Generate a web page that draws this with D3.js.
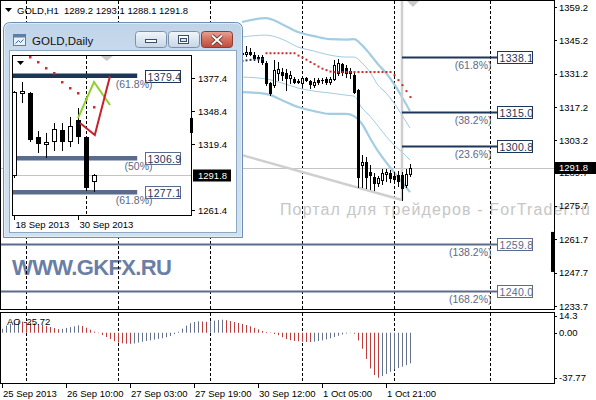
<!DOCTYPE html>
<html><head><meta charset="utf-8">
<script src="https://cdn.jsdelivr.net/npm/d3@7/dist/d3.min.js"></script>
<style>
html,body{margin:0;padding:0;background:#fff;overflow:hidden}
svg{display:block}
text{font-family:"Liberation Sans",Arial,sans-serif}
</style></head><body>
<svg id="chart" width="596" height="400"></svg>
<script>
// ================= DATA =================
const headerSymbol = "GOLD,H1";
const headerValues = ["1289.2", "1293.1", "1288.1", "1291.8"];
const lastPrice = 1291.8;

const priceTicks = [1359.2, 1345.2, 1331.2, 1317.2, 1303.2, 1289.7, 1275.7, 1261.7, 1247.7, 1233.7];
const timeTickIndex = [-6, 10, 26, 42, 58, 74, 90];
const timeTickLabels = ["25 Sep 2013", "26 Sep 10:00", "27 Sep 03:00", "27 Sep 19:00", "30 Sep 12:00", "1 Oct 05:00", "1 Oct 21:00"];
const daySeparators = [0, 23, 46, 69, 92, 116];

// H1 candles, bar index 54 .. 96
const candleFirst = 54;
const candleOpen  = [1340.0,1339.6,1340.2,1339.2,1337.8,1338.4,1335.7,1327.2,1326.4,1331.5,1331.9,1331.5,1329.4,1328.9,1328.1,1327.3,1329.4,1328.1,1326.4,1328.5,1328.5,1328.9,1327.7,1328.9,1331.5,1335.2,1333.5,1332.3,1330.6,1324.3,1292.9,1294.1,1289.9,1287.8,1285.3,1286.6,1289.1,1289.5,1288.3,1288.7,1288.7,1284.5,1289.2];
const candleHigh  = [1343.2,1343.0,1342.0,1340.2,1339.0,1339.2,1336.4,1327.8,1336.9,1336.0,1333.5,1333.1,1332.3,1329.8,1328.9,1329.8,1329.8,1328.5,1329.4,1329.4,1329.4,1329.8,1329.8,1336.9,1337.3,1335.9,1334.8,1333.5,1331.5,1324.6,1297.1,1296.2,1293.0,1289.5,1288.3,1291.2,1291.2,1290.8,1289.9,1290.4,1290.0,1291.2,1293.1];
const candleLow   = [1338.2,1338.6,1339.0,1336.8,1336.2,1335.4,1326.4,1322.2,1325.6,1328.5,1328.5,1324.3,1327.3,1327.3,1327.3,1326.4,1328.1,1325.2,1325.6,1326.9,1327.3,1326.9,1326.9,1328.5,1330.6,1330.6,1329.8,1329.4,1323.1,1283.6,1283.6,1283.2,1282.8,1282.4,1284.0,1284.9,1286.2,1285.7,1285.3,1284.0,1278.2,1283.6,1288.1];
const candleClose = [1339.6,1340.2,1339.4,1337.8,1338.4,1336.0,1327.2,1323.1,1332.7,1333.1,1330.6,1329.4,1330.6,1327.7,1327.7,1329.4,1328.5,1326.9,1327.7,1327.7,1328.4,1327.7,1328.9,1334.8,1335.7,1331.9,1331.5,1331.5,1323.5,1287.8,1294.1,1287.8,1288.7,1285.3,1287.4,1289.5,1289.9,1287.4,1287.0,1286.2,1283.2,1289.2,1291.8];

// dotted indicator
const redDotsFirst = 60;
const redDots = [1339.8,1339.8,1339.8,1339.8,1339.8,1339.8,1339.8,1339.8,1338.8,1338.0,1337.1,1336.1,1335.2,1334.2,1333.3,1332.7,1332.1,1331.9,1331.9,1331.9,1331.9,1331.9,1331.9,1331.9,1331.9,1331.9,1331.9,1331.9,1331.9,1331.9,1331.9,1331.9,1330.6,1328.5,1326.4,1323.9,1321.4];
const navyDotsFirst = 54;
const navyDots = [1336.6,1336.8,1337.0,1337.1,1337.2,1337.3];

// band lines (sampled at bar index)
const bandIndex  = [54,60,64,68,72,76,80,82,84,86,88,90,92,94,96];
const bandUpperOuter = [1352.9,1354.5,1352.0,1348.7,1347.0,1345.7,1345.5,1345.7,1343.2,1339.4,1335.2,1331.5,1326.9,1321.4,1315.5];
const bandUpperInner = [1346.6,1347.4,1345.7,1342.4,1340.7,1339.0,1338.2,1338.2,1335.7,1331.9,1326.4,1323.1,1318.9,1313.8,1308.4];
const bandLowerInner = [1329.8,1329.0,1327.3,1325.2,1323.9,1323.1,1322.2,1321.8,1316.8,1313.4,1309.2,1305.0,1301.3,1298.3,1295.0];
const bandLowerOuter = [1323.5,1322.7,1320.1,1317.2,1315.5,1314.3,1314.3,1313.4,1310.1,1304.2,1298.7,1294.1,1289.9,1285.7,1281.5];

// fibonacci object
const fibLevels = [1338.1, 1315.0, 1300.8, 1259.8, 1240.0];
const fibPercent = ["(61.8%)", "(38.2%)", "(23.6%)", "(138.2%)", "(168.2%)"];
const fibFrom = [94, 94, 94, -7, -7];
const fibTo = 117.75;
const fibDark = [true, true, true, false, false];
const fibBaseLine = [[50, 1298.9], [94, 1278.2]];
const fibVerticalIndex = 94;

// Awesome Oscillator, bar index -6 .. 96
const aoFirst = -6;
const aoValues = [3.3,6.0,7.5,8.2,9.6,9.3,9.0,8.4,7.8,7.2,6.5,5.7,4.8,3.9,3.0,3.3,4.0,4.7,5.4,6.2,5.6,4.2,2.5,0.9,-0.3,-2.0,-3.6,-5.4,-7.2,-8.3,-8.9,-9.2,-9.3,-9.0,-8.3,-7.6,-7.0,-6.4,-5.8,-5.2,-4.6,-3.8,-2.8,-1.2,0.8,3.4,6.0,8.0,9.0,9.6,9.4,9.1,9.6,10.2,10.6,10.9,10.5,9.8,9.0,8.2,7.4,6.5,5.4,4.1,2.8,1.5,0.6,-0.3,-1.1,-2.1,-3.8,-5.3,-6.3,-6.9,-7.2,-7.5,-7.7,-7.8,-7.5,-7.0,-6.4,-5.6,-4.7,-3.7,-2.6,-1.5,-0.7,-0.3,-0.8,-6.5,-13.5,-22.0,-30.0,-35.5,-37.77,-36.4,-34.6,-32.8,-31.0,-29.6,-28.5,-27.2,-25.72];
const aoTicks = [14.3, 0, -37.77];
const aoTickLabels = ["14.3", "0.00", "-37.77"];
const aoLabel = "AO -25.72";

// Inset daily chart
const insetTitle = "GOLD,Daily";
const insetOpen  = [1292.0,1364.5,1364.2,1325.5,1319.5,1322.0,1331.7,1322.0,1340.5,1325.5,1287.0];
const insetHigh  = [1366.0,1373.9,1365.5,1330.8,1329.1,1337.9,1337.9,1343.1,1351.0,1326.4,1293.1];
const insetLow   = [1290.0,1356.3,1322.4,1312.4,1308.0,1314.1,1314.1,1317.6,1320.3,1279.0,1278.2];
const insetClose = [1365.0,1366.0,1323.8,1320.3,1321.4,1332.6,1322.0,1335.2,1326.4,1282.0,1291.8];
const insetDotsFirst = 2;
const insetDots = [1395.9,1391.5,1386.2,1381.8,1373.9,1368.6,1364.2,1358.9,1351.9];
const insetTicks = [1377.4, 1348.4, 1319.4, 1261.4];
const insetTimeIndex = [0, 8];
const insetTimeLabels = ["18 Sep 2013", "30 Sep 2013"];
const insetSeparator = 9;
const insetFibLevels = [1379.4, 1306.9, 1277.1];
const insetFibPercent = ["(61.8%)", "(50%)", "(61.8%)"];
const insetFibDark = [true, false, false];
const insetFibTo = 15.4;
const insetGreen = [[8, 1342.2], [10, 1373.9], [12, 1353.7]];
const insetRed = [[8.25, 1337.9], [10.1, 1327.3], [12, 1379.0]];

// ================= SCALES =================
const xMain = d3.scaleLinear().domain([0, 96]).range([26, 410]);
const yMain = d3.scaleLinear().domain([1233.7, 1359.2]).range([306, 7]);
const yAO = d3.scaleLinear().domain([-37.77, 14.3]).range([377.7, 315.7]);
const xIn = d3.scaleLinear().domain([0, 10]).range([14, 94]);
const yIn = d3.scaleLinear().domain([1261.4, 1377.4]).range([210, 78]);

const C_NAVY = "#1d3658", C_SLATE = "#5b6b8c", C_BAND = "#a3cde2", C_RED = "#d02b2b";
const C_AO_UP = "#65728d", C_AO_DN = "#c23b3b";
const px = v => Math.round(v) + 0.5;

const svg = d3.select("#chart");
const defs = svg.append("defs");
defs.append("clipPath").attr("id", "clipMain").append("rect").attr("x", 1).attr("y", 1).attr("width", 553).attr("height", 308);
defs.append("clipPath").attr("id", "clipAO").append("rect").attr("x", 1).attr("y", 313).attr("width", 553).attr("height", 70);
defs.append("clipPath").attr("id", "clipIn").append("rect").attr("x", 13).attr("y", 56).attr("width", 178).attr("height", 159);

svg.append("rect").attr("width", 596).attr("height", 400).attr("fill", "#fff");

// watermark (runs over the price scale, as in the original)
svg.append("text").attr("x", 280).attr("y", 215).attr("font-size", 16).attr("fill", "#c6c6c6")
  .attr("textLength", 310).text("Портал для трейдеров - ForTrader.ru");

// ================= MAIN PANEL =================
const gM = svg.append("g").attr("clip-path", "url(#clipMain)");

gM.append("text").attr("x", 12).attr("y", 275).attr("font-size", 22).attr("font-weight", "bold")
  .attr("fill", "#6a7ea6").attr("textLength", 160).text("WWW.GKFX.RU");

// separators
daySeparators.forEach(i => {
  gM.append("line").attr("x1", px(xMain(i))).attr("x2", px(xMain(i))).attr("y1", 1).attr("y2", 309)
    .attr("stroke", "#000").attr("stroke-dasharray", "3,2");
});

// current price line
gM.append("line").attr("x1", 0).attr("x2", 554).attr("y1", px(yMain(lastPrice))).attr("y2", px(yMain(lastPrice)))
  .attr("stroke", "#c4c4c4");

// bands
const bandLine = d3.line().x((d, k) => xMain(bandIndex[k])).y(d => yMain(d)).curve(d3.curveMonotoneX);
[[bandUpperOuter, 2.2], [bandUpperInner, 1], [bandLowerInner, 1], [bandLowerOuter, 2.2]].forEach(([arr, w]) => {
  gM.append("path").attr("d", bandLine(arr)).attr("fill", "none").attr("stroke", C_BAND).attr("stroke-width", w);
});

// fib base line + vertical
gM.append("line").attr("x1", xMain(fibBaseLine[0][0])).attr("y1", yMain(fibBaseLine[0][1]))
  .attr("x2", xMain(fibBaseLine[1][0])).attr("y2", yMain(fibBaseLine[1][1]))
  .attr("stroke", "#cfcfcf").attr("stroke-width", 2.5);
gM.append("line").attr("x1", xMain(fibVerticalIndex)).attr("x2", xMain(fibVerticalIndex))
  .attr("y1", 0).attr("y2", yMain(fibBaseLine[1][1])).attr("stroke", "#cfcfcf").attr("stroke-width", 2.5);

// fib levels
fibLevels.forEach((lv, k) => {
  const y = px(yMain(lv));
  const col = fibDark[k] ? C_NAVY : C_SLATE;
  gM.append("line").attr("x1", xMain(fibFrom[k])).attr("x2", xMain(fibTo)).attr("y1", y).attr("y2", y)
    .attr("stroke", col).attr("stroke-width", 2);
  const bx = Math.round(xMain(fibTo)) + 0.5;
  gM.append("text").attr("x", bx - 6).attr("y", y + 11.5).attr("text-anchor", "end")
    .attr("font-size", 10.5).attr("fill", "#5a6a86").text(fibPercent[k]);
  gM.append("rect").attr("x", bx).attr("y", y - 6).attr("width", 35).attr("height", 12)
    .attr("fill", "#fff").attr("stroke", col);
  gM.append("text").attr("x", bx + 2).attr("y", y + 4).attr("font-size", 10.5).attr("fill", col)
    .attr("letter-spacing", 0.3).text(lv.toFixed(1));
});

// candles
function drawCandles(g, xs, ys, O, H, L, Cl, first, half) {
  O.forEach((o, k) => {
    const xi = Math.round(xs(first + k));
    const x = xi + 0.5, c = Cl[k];
    g.append("line").attr("x1", x).attr("x2", x).attr("y1", Math.round(ys(H[k])))
      .attr("y2", Math.round(ys(L[k])) + 1).attr("stroke", "#000");
    const top = Math.round(Math.min(ys(o), ys(c))), bot = Math.round(Math.max(ys(o), ys(c)));
    if (bot - top < 1) {
      g.append("line").attr("x1", xi - half).attr("x2", xi + half + 1).attr("y1", top + 0.5).attr("y2", top + 0.5).attr("stroke", "#000");
    } else {
      g.append("rect").attr("x", xi - half + 0.5).attr("y", top + 0.5).attr("width", 2 * half)
        .attr("height", bot - top).attr("fill", c >= o ? "#fff" : "#000").attr("stroke", "#000");
    }
  });
}
drawCandles(gM, xMain, yMain, candleOpen, candleHigh, candleLow, candleClose, candleFirst, 1);

// dots
redDots.forEach((v, k) => {
  gM.append("rect").attr("x", xMain(redDotsFirst + k) - 0.5).attr("y", yMain(v) - 1).attr("width", 2).attr("height", 2).attr("fill", C_RED);
});
navyDots.forEach((v, k) => {
  gM.append("rect").attr("x", xMain(navyDotsFirst + k) - 0.5).attr("y", yMain(v) - 1).attr("width", 2).attr("height", 2).attr("fill", "#2a3b63");
});

// shift marker
const shiftX = xMain(candleFirst + candleOpen.length - 1) + 3;
gM.append("path").attr("d", `M${shiftX - 6},1 L${shiftX + 6},1 L${shiftX},7 Z`).attr("fill", "#c8c8c8");

// black marker at right edge
gM.append("rect").attr("x", 551).attr("y", yMain(1264.8)).attr("width", 3).attr("height", yMain(1248.0) - yMain(1264.8)).attr("fill", "#000");

// header
svg.append("path").attr("d", "M5,8 L12,8 L8.5,12 Z").attr("fill", "#000");
svg.append("text").attr("x", 17).attr("y", 14).attr("font-size", 9.5).attr("fill", "#000")
  .style("white-space", "pre").text(headerSymbol + "  " + headerValues.join(" "));

// frames
svg.append("rect").attr("x", 0.5).attr("y", 0.5).attr("width", 554).attr("height", 309).attr("fill", "none").attr("stroke", "#000");

// right price axis
priceTicks.forEach(v => {
  const y = yMain(v);
  svg.append("line").attr("x1", 554).attr("x2", 557).attr("y1", px(y)).attr("y2", px(y)).attr("stroke", "#000");
  svg.append("text").attr("x", 559).attr("y", y + 3.5).attr("font-size", 9.5).attr("fill", "#000").text(v.toFixed(1));
});
svg.append("rect").attr("x", 555).attr("y", Math.round(yMain(lastPrice)) - 6).attr("width", 41).attr("height", 12).attr("fill", "#000");
svg.append("text").attr("x", 559).attr("y", yMain(lastPrice) + 3.5).attr("font-size", 9.5).attr("fill", "#fff").text(lastPrice.toFixed(1));

// ================= AO PANEL =================
const gA = svg.append("g").attr("clip-path", "url(#clipAO)");
daySeparators.forEach(i => {
  gA.append("line").attr("x1", px(xMain(i))).attr("x2", px(xMain(i))).attr("y1", 313).attr("y2", 383)
    .attr("stroke", "#000").attr("stroke-dasharray", "3,2");
});
aoValues.forEach((v, k) => {
  const up = k === 0 || v > aoValues[k - 1];
  const x = px(xMain(aoFirst + k));
  gA.append("line").attr("x1", x).attr("x2", x).attr("y1", yAO(0)).attr("y2", yAO(v))
    .attr("stroke", up ? C_AO_UP : C_AO_DN).attr("stroke-width", 1);
});
gA.append("text").attr("x", 7).attr("y", 325).attr("font-size", 9.5).attr("fill", "#000").text(aoLabel);
svg.append("rect").attr("x", 0.5).attr("y", 312.5).attr("width", 554).attr("height", 71).attr("fill", "none").attr("stroke", "#000");
aoTicks.forEach((v, k) => {
  const y = yAO(v);
  svg.append("line").attr("x1", 554).attr("x2", 557).attr("y1", px(y)).attr("y2", px(y)).attr("stroke", "#000");
  svg.append("text").attr("x", 559).attr("y", y + 3.5).attr("font-size", 9.5).attr("fill", "#000").text(aoTickLabels[k]);
});

// time axis
timeTickIndex.forEach((i, k) => {
  const x = px(xMain(i));
  svg.append("line").attr("x1", x).attr("x2", x).attr("y1", 384).attr("y2", 388).attr("stroke", "#000");
  svg.append("text").attr("x", x + 0.5).attr("y", 397).attr("font-size", 9.5).attr("fill", "#000").text(timeTickLabels[k]);
});

// ================= INSET WINDOW =================
const gW = svg.append("g");
const gr = defs.append("linearGradient").attr("id", "frameGrad").attr("x1", 0).attr("y1", 0).attr("x2", 0).attr("y2", 1);
gr.append("stop").attr("offset", "0").attr("stop-color", "#bfd3e8");
gr.append("stop").attr("offset", "0.15").attr("stop-color", "#c9dbee");
gr.append("stop").attr("offset", "1").attr("stop-color", "#d2e1f1");
gW.append("path").attr("d", "M3.5,237.5 L3.5,29.5 Q3.5,22.5 10.5,22.5 L235.5,22.5 Q242.5,22.5 242.5,29.5 L242.5,237.5 Z")
  .attr("fill", "url(#frameGrad)").attr("stroke", "#6f8fb1");
gW.append("path").attr("d", "M4.5,236.5 L4.5,29.5 Q4.5,23.5 10.5,23.5 L235.5,23.5 Q241.5,23.5 241.5,29.5 L241.5,236.5 Z")
  .attr("fill", "none").attr("stroke", "#e6eff9").attr("stroke-opacity", 0.8);
gW.append("rect").attr("x", 9.5).attr("y", 50.5).attr("width", 227).attr("height", 182).attr("fill", "#fff").attr("stroke", "#8ea8c4");

// icon
gW.append("rect").attr("x", 13.5).attr("y", 34.5).attr("width", 12).attr("height", 11).attr("fill", "#eaf1f8").attr("stroke", "#5b7fa6");
gW.append("rect").attr("x", 13.5).attr("y", 34.5).attr("width", 12).attr("height", 3).attr("fill", "#5b7fa6");
gW.append("path").attr("d", "M15.5,43.5 L18.5,40.5 L20.5,42.5 L23.5,39.5").attr("fill", "none").attr("stroke", "#3a6ea5");
gW.append("text").attr("x", 32).attr("y", 45).attr("font-family", "'Open Sans','Noto Sans',sans-serif")
  .attr("font-size", 11.5).attr("fill", "#111").text(insetTitle);

// buttons
const bg = defs.append("linearGradient").attr("id", "btnGrad").attr("x1", 0).attr("y1", 0).attr("x2", 0).attr("y2", 1);
bg.append("stop").attr("offset", "0").attr("stop-color", "#f2f6fb");
bg.append("stop").attr("offset", "0.5").attr("stop-color", "#dce6f1");
bg.append("stop").attr("offset", "1").attr("stop-color", "#c6d5e6");
const rg = defs.append("linearGradient").attr("id", "closeGrad").attr("x1", 0).attr("y1", 0).attr("x2", 0).attr("y2", 1);
rg.append("stop").attr("offset", "0").attr("stop-color", "#e8a294");
rg.append("stop").attr("offset", "0.5").attr("stop-color", "#d3705f");
rg.append("stop").attr("offset", "1").attr("stop-color", "#c04a3b");
gW.append("rect").attr("x", 135.5).attr("y", 31.5).attr("width", 31).attr("height", 16).attr("rx", 3).attr("fill", "url(#btnGrad)").attr("stroke", "#7a92ad");
gW.append("rect").attr("x", 168.5).attr("y", 31.5).attr("width", 31).attr("height", 16).attr("rx", 3).attr("fill", "url(#btnGrad)").attr("stroke", "#7a92ad");
gW.append("rect").attr("x", 201.5).attr("y", 31.5).attr("width", 31).attr("height", 16).attr("rx", 3).attr("fill", "url(#closeGrad)").attr("stroke", "#8c3c33");
gW.append("rect").attr("x", 145.5).attr("y", 39.5).attr("width", 11).attr("height", 3).attr("fill", "#fff").attr("stroke", "#3d4d63");
gW.append("rect").attr("x", 178.5).attr("y", 35.5).attr("width", 10).attr("height", 8).attr("fill", "#fff").attr("stroke", "#3d4d63");
gW.append("rect").attr("x", 180.5).attr("y", 38.5).attr("width", 6).attr("height", 3).attr("fill", "#dce6f1").attr("stroke", "#3d4d63");
gW.append("path").attr("d", "M212,35.5 L222,44.5 M222,35.5 L212,44.5").attr("stroke", "#5a2a24").attr("stroke-width", 3.6);
gW.append("path").attr("d", "M212,35.5 L222,44.5 M222,35.5 L212,44.5").attr("stroke", "#fff").attr("stroke-width", 2);

// inset plot frame
gW.append("rect").attr("x", 12.5).attr("y", 55.5).attr("width", 179).attr("height", 160).attr("fill", "#fff").attr("stroke", "#000");
const gI = gW.append("g").attr("clip-path", "url(#clipIn)");
gI.append("line").attr("x1", px(xIn(insetSeparator))).attr("x2", px(xIn(insetSeparator))).attr("y1", 56).attr("y2", 215)
  .attr("stroke", "#000").attr("stroke-dasharray", "3,2");
gI.append("line").attr("x1", 13).attr("x2", 191).attr("y1", px(yIn(lastPrice))).attr("y2", px(yIn(lastPrice))).attr("stroke", "#c4c4c4");
insetFibLevels.forEach((lv, k) => {
  gI.append("line").attr("x1", 13).attr("x2", xIn(insetFibTo)).attr("y1", yIn(lv)).attr("y2", yIn(lv))
    .attr("stroke", insetFibDark[k] ? C_NAVY : C_SLATE).attr("stroke-width", 4.5);
});
drawCandles(gI, xIn, yIn, insetOpen, insetHigh, insetLow, insetClose, 0, 2);
insetDots.forEach((v, k) => {
  gI.append("rect").attr("x", xIn(insetDotsFirst + k) - 1).attr("y", yIn(v) - 1).attr("width", 2.5).attr("height", 2.5).attr("fill", C_RED);
});
const zl = d3.line().x(d => xIn(d[0])).y(d => yIn(d[1]));
gI.append("path").attr("d", zl(insetGreen)).attr("fill", "none").attr("stroke", "#8fd12a").attr("stroke-width", 2);
gI.append("path").attr("d", zl(insetRed)).attr("fill", "none").attr("stroke", "#c8202a").attr("stroke-width", 2);
insetFibLevels.forEach((lv, k) => {
  const y = yIn(lv);
  const bx = Math.round(xIn(insetFibTo)) + 8.5;
  gI.append("rect").attr("x", bx).attr("y", Math.round(y) - 5.5).attr("width", 35).attr("height", 12)
    .attr("fill", "#fff").attr("stroke", insetFibDark[k] ? C_NAVY : C_SLATE);
  gI.append("text").attr("x", bx + 2).attr("y", Math.round(y) + 4.5).attr("font-size", 10.5).attr("fill", C_NAVY)
    .attr("letter-spacing", 0.3).text(lv.toFixed(1));
  gI.append("text").attr("x", bx + 7).attr("y", y + 12).attr("text-anchor", "end").attr("font-size", 10.5)
    .attr("fill", "#5a6a86").text(insetFibPercent[k]);
});
gI.append("path").attr("d", "M17,61 L24,61 L20.5,65 Z").attr("fill", "#000");
const shiftIn = xIn(11.6);
gI.append("path").attr("d", `M${shiftIn - 6},56 L${shiftIn + 6},56 L${shiftIn},61 Z`).attr("fill", "#c8c8c8");
gW.append("rect").attr("x", 190).attr("y", yIn(1342.3)).attr("width", 3).attr("height", yIn(1329.1) - yIn(1342.3)).attr("fill", "#000");

// inset axes
insetTicks.forEach(v => {
  const y = yIn(v);
  gW.append("line").attr("x1", 192).attr("x2", 195).attr("y1", px(y)).attr("y2", px(y)).attr("stroke", "#000");
  gW.append("text").attr("x", 198).attr("y", y + 3.5).attr("font-size", 9.5).attr("fill", "#000").text(v.toFixed(1));
});
gW.append("rect").attr("x", 193).attr("y", Math.round(yIn(lastPrice)) - 5.5).attr("width", 38).attr("height", 12).attr("fill", "#000");
gW.append("text").attr("x", 198).attr("y", yIn(lastPrice) + 4).attr("font-size", 9.5).attr("fill", "#fff").text(lastPrice.toFixed(1));
insetTimeIndex.forEach((i, k) => {
  const x = px(xIn(i));
  gW.append("line").attr("x1", x).attr("x2", x).attr("y1", 216).attr("y2", 220).attr("stroke", "#000");
  gW.append("text").attr("x", x + 1).attr("y", 228).attr("font-size", 9.5).attr("fill", "#000").text(insetTimeLabels[k]);
});
</script>
</body></html>
